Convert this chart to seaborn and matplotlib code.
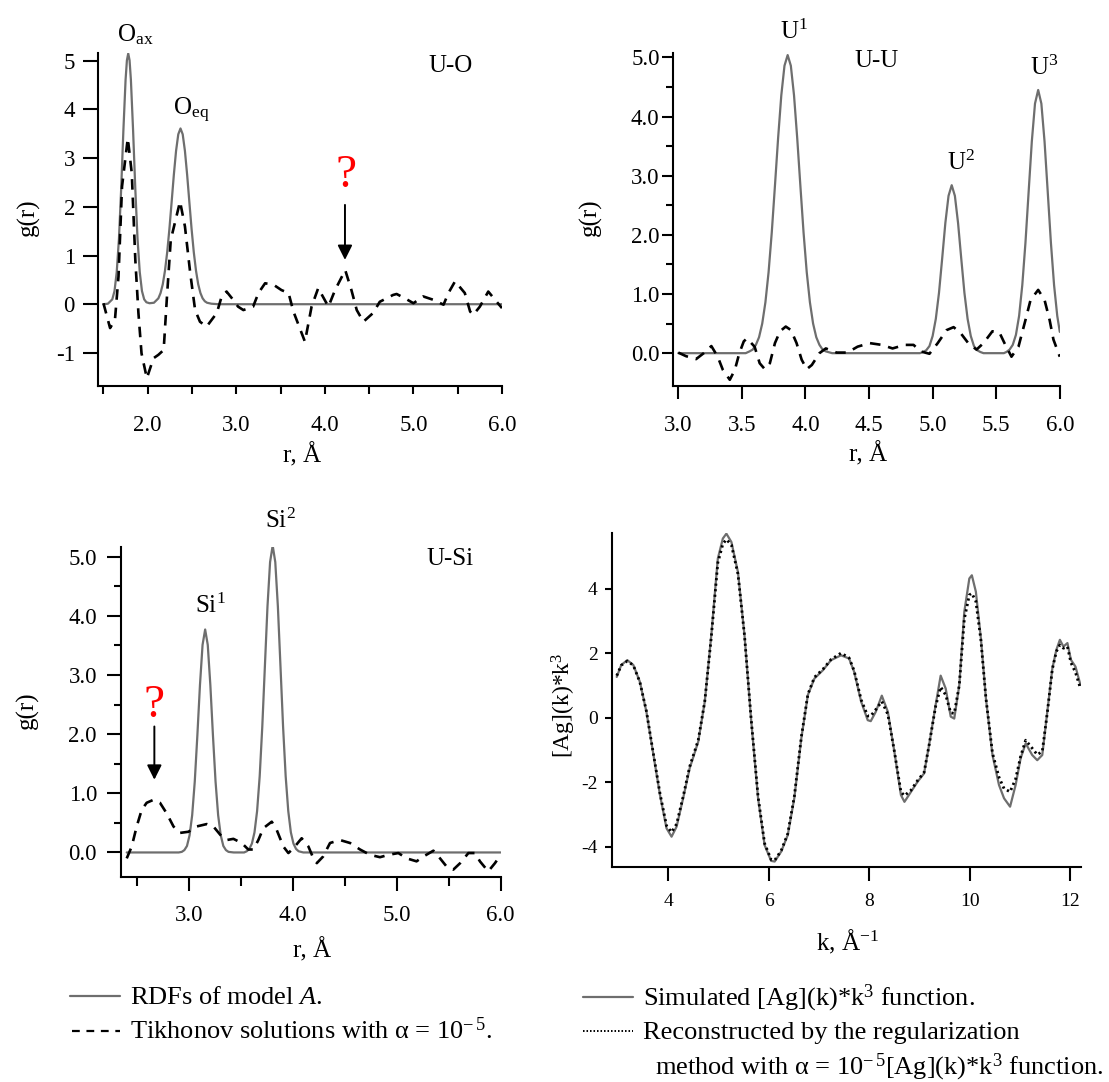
import matplotlib
matplotlib.use("Agg")
import matplotlib.pyplot as plt
import seaborn as sns
from matplotlib.lines import Line2D
from matplotlib.ticker import FixedLocator

# ---------------- U-O ----------------
uo_r_rdf = [1.50, 1.55, 1.60, 1.625, 1.65, 1.675, 1.70, 1.725, 1.75, 1.765, 1.78, 1.795, 1.81, 1.835, 1.86,
            1.885, 1.91, 1.935, 1.96, 1.985, 2.02, 2.07, 2.12, 2.145, 2.17, 2.195, 2.22, 2.245, 2.27, 2.295,
            2.32, 2.345, 2.37, 2.395, 2.42, 2.445, 2.47, 2.495, 2.52, 2.545, 2.57, 2.595, 2.62, 2.645, 2.67,
            2.72, 2.80, 6.00]
uo_g_rdf = [0.0, 0.01, 0.10, 0.27, 0.66, 1.34, 2.36, 3.56, 4.61, 5.01, 5.15, 5.01, 4.61, 3.56, 2.36,
            1.34, 0.66, 0.27, 0.10, 0.04, 0.02, 0.03, 0.12, 0.23, 0.41, 0.69, 1.07, 1.55, 2.10, 2.66,
            3.15, 3.49, 3.61, 3.49, 3.15, 2.66, 2.10, 1.55, 1.07, 0.69, 0.41, 0.23, 0.12, 0.06, 0.03,
            0.01, 0.0, 0.0]
uo_r_tik = [1.50, 1.575, 1.63, 1.67, 1.71, 1.775, 1.82, 1.86, 1.895, 1.93, 1.99, 2.065, 2.12, 2.18, 2.215,
            2.26, 2.365, 2.42, 2.48, 2.535, 2.59, 2.665, 2.78, 2.835, 2.89, 2.965, 3.02, 3.08, 3.19, 3.25,
            3.325, 3.42, 3.51, 3.59, 3.645, 3.775, 3.85, 3.925, 4.04, 4.115, 4.23, 4.30, 4.36, 4.435, 4.545,
            4.62, 4.77, 4.81, 4.905, 5.0, 5.11, 5.225, 5.34, 5.395, 5.47, 5.58, 5.64, 5.675, 5.75, 5.845,
            5.94, 6.0]
uo_g_tik = [0.02, -0.49, -0.32, 0.57, 2.42, 3.41, 2.69, 0.91, -0.18, -1.01, -1.52, -1.11, -1.04, -0.94, 0.09,
            1.32, 2.11, 1.60, 0.64, -0.12, -0.36, -0.46, -0.18, 0.16, 0.26, 0.09, -0.05, -0.12, -0.05, 0.23,
            0.43, 0.40, 0.29, 0.23, -0.15, -0.77, -0.05, 0.33, -0.05, 0.29, 0.70, 0.29, -0.12, -0.36, -0.18,
            0.05, 0.19, 0.21, 0.12, 0.02, 0.16, 0.09, -0.01, 0.23, 0.47, 0.23, -0.15, -0.22, -0.05, 0.26,
            0.05, -0.08]

# ---------------- U-U ----------------
uu_r_rdf = [3.00, 3.53, 3.56, 3.585, 3.61, 3.635, 3.66, 3.685, 3.71, 3.735, 3.76, 3.785, 3.81, 3.835, 3.86,
            3.885, 3.91, 3.935, 3.96, 3.985, 4.01, 4.035, 4.06, 4.085, 4.11, 4.135, 4.16, 4.21, 4.90, 4.925,
            4.95, 4.975, 5.00, 5.025, 5.05, 5.075, 5.10, 5.125, 5.15, 5.175, 5.20, 5.225, 5.25, 5.275, 5.30,
            5.325, 5.35, 5.375, 5.40, 5.56, 5.58, 5.605, 5.63, 5.655, 5.68, 5.705, 5.73, 5.755, 5.78, 5.805,
            5.83, 5.855, 5.88, 5.905, 5.93, 5.955, 5.98, 6.00]
uu_g_rdf = [0.0, 0.0, 0.03, 0.06, 0.14, 0.27, 0.50, 0.86, 1.37, 2.04, 2.83, 3.64, 4.36, 4.86, 5.04,
            4.86, 4.36, 3.64, 2.83, 2.04, 1.37, 0.86, 0.50, 0.27, 0.14, 0.06, 0.03, 0.0, 0.0, 0.02,
            0.05, 0.12, 0.29, 0.58, 1.02, 1.60, 2.20, 2.66, 2.84, 2.66, 2.20, 1.60, 1.02, 0.58, 0.29,
            0.12, 0.05, 0.02, 0.0, 0.0, 0.02, 0.06, 0.14, 0.31, 0.63, 1.15, 1.87, 2.73, 3.58, 4.22,
            4.45, 4.22, 3.58, 2.73, 1.87, 1.15, 0.63, 0.36]
uu_r_tik = [3.00, 3.06, 3.14, 3.20, 3.26, 3.31, 3.35, 3.405, 3.445, 3.48, 3.515, 3.54, 3.60, 3.64, 3.68,
            3.72, 3.76, 3.80, 3.845, 3.886, 3.93, 3.97, 4.01, 4.05, 4.11, 4.16, 4.245, 4.33, 4.41, 4.505,
            4.60, 4.685, 4.78, 4.85, 4.905, 4.975, 5.04, 5.11, 5.165, 5.22, 5.28, 5.345, 5.40, 5.47, 5.525,
            5.565, 5.62, 5.675, 5.73, 5.77, 5.83, 5.88, 5.92, 5.95, 6.00]
uu_g_tik = [0.01, -0.05, -0.10, 0.0, 0.12, -0.06, -0.28, -0.45, -0.28, 0.0, 0.20, 0.25, 0.11, -0.17, -0.27,
            -0.17, 0.17, 0.37, 0.45, 0.39, 0.17, -0.11, -0.27, -0.20, 0.0, 0.08, 0.01, 0.01, 0.11, 0.17,
            0.14, 0.08, 0.14, 0.14, 0.03, -0.01, 0.17, 0.39, 0.44, 0.34, 0.17, 0.06, 0.17, 0.37, 0.35,
            0.17, -0.06, 0.11, 0.56, 0.90, 1.07, 0.90, 0.56, 0.23, -0.06]

# ---------------- U-Si ----------------
us_r_rdf = [2.40, 2.90, 2.93, 2.955, 2.98, 3.005, 3.03, 3.055, 3.08, 3.105, 3.13, 3.155, 3.18, 3.205, 3.23,
            3.255, 3.28, 3.305, 3.33, 3.355, 3.38, 3.43, 3.53, 3.555, 3.58, 3.605, 3.63, 3.655, 3.68, 3.705,
            3.73, 3.755, 3.78, 3.805, 3.83, 3.855, 3.88, 3.905, 3.93, 3.955, 3.98, 4.005, 4.03, 4.055, 4.10,
            6.00]
us_g_rdf = [0.0, 0.0, 0.01, 0.04, 0.11, 0.29, 0.63, 1.20, 1.98, 2.83, 3.51, 3.77, 3.51, 2.83, 1.98,
            1.20, 0.63, 0.29, 0.11, 0.04, 0.01, 0.0, 0.0, 0.02, 0.06, 0.15, 0.34, 0.70, 1.29, 2.13,
            3.15, 4.16, 4.91, 5.19, 4.91, 4.16, 3.15, 2.13, 1.29, 0.70, 0.34, 0.15, 0.06, 0.02, 0.0,
            0.0]
us_r_tik = [2.40, 2.448, 2.496, 2.544, 2.592, 2.657, 2.72, 2.785, 2.85, 2.91, 2.994, 3.074, 3.17, 3.234, 3.30,
            3.362, 3.427, 3.507, 3.57, 3.62, 3.667, 3.715, 3.796, 3.844, 3.908, 3.956, 4.004, 4.084, 4.149, 4.197,
            4.23, 4.29, 4.357, 4.453, 4.55, 4.646, 4.742, 4.838, 4.92, 5.015, 5.095, 5.19, 5.255, 5.352, 5.416,
            5.48, 5.544, 5.61, 5.689, 5.753, 5.80, 5.88, 5.945, 6.0]
us_g_tik = [-0.10, 0.10, 0.44, 0.72, 0.84, 0.89, 0.84, 0.66, 0.44, 0.33, 0.35, 0.44, 0.48, 0.44, 0.30,
            0.21, 0.23, 0.16, 0.05, 0.05, 0.21, 0.41, 0.52, 0.38, 0.10, -0.01, 0.07, 0.24, 0.10, -0.10,
            -0.18, -0.07, 0.16, 0.21, 0.16, 0.05, -0.04, -0.08, -0.04, -0.01, -0.10, -0.15, -0.07, 0.03, -0.10,
            -0.24, -0.29, -0.18, -0.01, -0.01, -0.15, -0.32, -0.18, -0.04]

# ---------------- [Ag](k)*k^3 ----------------
k_vals = [2.98, 3.07, 3.19, 3.31, 3.44, 3.57, 3.70, 3.84, 3.97, 4.07, 4.17, 4.30, 4.43, 4.60, 4.73,
          4.86, 4.99, 5.09, 5.16, 5.26, 5.39, 5.52, 5.65, 5.79, 5.92, 6.05, 6.12, 6.25, 6.38, 6.51,
          6.65, 6.78, 6.91, 7.08, 7.24, 7.44, 7.60, 7.70, 7.84, 7.97, 8.03, 8.13, 8.25, 8.37, 8.50,
          8.63, 8.70, 8.83, 8.96, 9.09, 9.19, 9.32, 9.42, 9.52, 9.62, 9.69, 9.79, 9.89, 9.99, 10.04,
          10.12, 10.22, 10.32, 10.45, 10.58, 10.68, 10.80, 10.91, 11.01, 11.11, 11.24, 11.34, 11.44, 11.54, 11.64,
          11.72, 11.79, 11.86, 11.94, 12.01, 12.10, 12.20]
ag_simulated = [1.26, 1.63, 1.78, 1.63, 1.11, 0.18, -1.06, -2.40, -3.43, -3.69, -3.38, -2.50, -1.57, -0.75, 0.49,
                2.55, 4.93, 5.55, 5.70, 5.44, 4.51, 2.55, -0.03, -2.50, -3.95, -4.44, -4.46, -4.15, -3.64, -2.50,
                -0.64, 0.70, 1.21, 1.47, 1.78, 1.93, 1.83, 1.42, 0.49, -0.08, -0.11, 0.18, 0.68, 0.18, -1.06,
                -2.40, -2.61, -2.30, -1.99, -1.73, -0.85, 0.39, 1.30, 0.90, 0.03, -0.03, 1.00, 3.28, 4.31, 4.41,
                3.90, 2.45, 0.59, -1.16, -2.09, -2.50, -2.76, -2.09, -1.26, -0.80, -1.16, -1.32, -1.16, 0.18, 1.52,
                2.10, 2.41, 2.20, 2.31, 1.79, 1.58, 1.01]
ag_reconstructed = [1.30, 1.62, 1.75, 1.62, 1.10, 0.20, -1.04, -2.35, -3.35, -3.55, -3.30, -2.45, -1.52, -0.70, 0.50,
                    2.50, 4.80, 5.38, 5.52, 5.35, 4.45, 2.55, 0.00, -2.45, -3.90, -4.40, -4.42, -4.12, -3.60, -2.45,
                    -0.60, 0.72, 1.25, 1.50, 1.80, 2.00, 1.85, 1.45, 0.55, 0.05, 0.05, 0.25, 0.50, 0.10, -1.05,
                    -2.30, -2.42, -2.25, -1.95, -1.70, -0.85, 0.35, 0.95, 0.70, 0.15, 0.13, 1.00, 3.05, 3.80, 3.85,
                    3.60, 2.40, 0.60, -1.10, -1.85, -2.20, -2.30, -1.90, -1.20, -0.70, -0.95, -1.15, -1.05, 0.15, 1.50,
                    2.05, 2.25, 2.15, 2.20, 1.70, 1.40, 0.90]

# ---------------- style ----------------
sns.set_theme(style="ticks")
plt.rcParams["font.family"] = ["Liberation Serif", "DejaVu Serif"]
plt.rcParams["mathtext.fontset"] = "custom"
plt.rcParams["mathtext.rm"] = "Liberation Serif"
plt.rcParams["mathtext.it"] = "Liberation Serif:italic"
plt.rcParams["axes.unicode_minus"] = False

W, H = 1109, 1082
fig = plt.figure(figsize=(W / 100, H / 100), dpi=100)
fig.patch.set_facecolor("white")

GRAY = "#6e6e6e"
TIK_DASH = (0, (4, 3))
PT = 0.72  # points per pixel at 100 dpi


def rect(l, t, r, b):
    return [l / W, 1 - b / H, (r - l) / W, (b - t) / H]


def ftext(x, y, s, **kw):
    fig.text(x / W, 1 - y / H, s, color=kw.pop("color", "black"), **kw)


def style_axes(ax, xlen, ylen, xpad, ypad, size, xminlen=None, yminlen=None):
    ax.set_facecolor("white")
    for side in ("top", "right"):
        ax.spines[side].set_visible(False)
    for side in ("left", "bottom"):
        ax.spines[side].set_color("black")
        ax.spines[side].set_linewidth(1.5)
    ax.tick_params(axis="x", which="major", direction="out", length=xlen * PT, width=1.5,
                   pad=xpad, labelsize=size, colors="black")
    ax.tick_params(axis="y", which="major", direction="out", length=ylen * PT, width=1.5,
                   pad=ypad, labelsize=size, colors="black")
    ax.tick_params(axis="x", which="minor", direction="out",
                   length=(xminlen if xminlen else xlen) * PT, width=1.5, colors="black")
    ax.tick_params(axis="y", which="minor", direction="out",
                   length=(yminlen if yminlen else ylen) * PT, width=1.5, colors="black")
    ax.set_xlabel("")
    ax.set_ylabel("")
    ax.grid(False)


def rdf_lines(ax, r_rdf, g_rdf, r_tik, g_tik):
    sns.lineplot(x=r_rdf, y=g_rdf, ax=ax, color=GRAY, linewidth=1.6, sort=False, estimator=None)
    sns.lineplot(x=r_tik, y=g_tik, ax=ax, color="black", linewidth=1.9, linestyle=TIK_DASH,
                 sort=False, estimator=None)


def arrow(ax, x, y0, y1):
    ax.annotate("", xy=(x, y1), xytext=(x, y0),
                arrowprops=dict(arrowstyle="-|>", color="black", lw=1.4, mutation_scale=22,
                                shrinkA=0, shrinkB=0))


# ---------------- panel: U-O ----------------
ax1 = fig.add_axes(rect(98.3, 53, 502, 386))
rdf_lines(ax1, uo_r_rdf, uo_g_rdf, uo_r_tik, uo_g_tik)
ax1.set_xlim(1.442, 6.0)
ax1.set_ylim(-1.68, 5.16)
ax1.set_xticks([2, 3, 4, 5, 6], labels=["2.0", "3.0", "4.0", "5.0", "6.0"])
ax1.xaxis.set_minor_locator(FixedLocator([1.5, 2.5, 3.5, 4.5, 5.5]))
ax1.set_yticks([-1, 0, 1, 2, 3, 4, 5], labels=["-1", "0", "1", "2", "3", "4", "5"])
style_axes(ax1, 8, 15, 15, 6, 16.5)
arrow(ax1, 4.227, 2.04, 0.91)

ftext(28, 217, "g(r)", rotation=90, ha="center", va="center", fontsize=18)
ftext(302, 455, "r, Å", ha="center", va="center", fontsize=18)
ftext(116.7, 41.7, r"O$_{\mathrm{ax}}$", ha="left", va="baseline", fontsize=18)
ftext(173.3, 115, r"O$_{\mathrm{eq}}$", ha="left", va="baseline", fontsize=18)
ftext(428.3, 71.7, "U-O", ha="left", va="baseline", fontsize=18)
ftext(345.7, 186.7, "?", ha="center", va="baseline", fontsize=34, color="#ff0000")

# ---------------- panel: U-U ----------------
ax2 = fig.add_axes(rect(672.7, 53.3, 1059.8, 385.7))
rdf_lines(ax2, uu_r_rdf, uu_g_rdf, uu_r_tik, uu_g_tik)
ax2.set_xlim(2.956, 6.0)
ax2.set_ylim(-0.55, 5.07)
ax2.set_xticks([3.0, 3.5, 4.0, 4.5, 5.0, 5.5, 6.0],
               labels=["3.0", "3.5", "4.0", "4.5", "5.0", "5.5", "6.0"])
ax2.set_yticks([0, 1, 2, 3, 4, 5], labels=["0.0", "1.0", "2.0", "3.0", "4.0", "5.0"])
ax2.yaxis.set_minor_locator(FixedLocator([0.5, 1.5, 2.5, 3.5, 4.5]))
style_axes(ax2, 13, 11, 12, 1.5, 16.5, yminlen=7)

ftext(590, 217, "g(r)", rotation=90, ha="center", va="center", fontsize=18)
ftext(868, 454, "r, Å", ha="center", va="center", fontsize=18)
ftext(779.8, 39.3, r"U$^{\mathrm{1}}$", ha="left", va="baseline", fontsize=18)
ftext(854, 66.7, "U-U", ha="left", va="baseline", fontsize=18)
ftext(946.8, 170, r"U$^{\mathrm{2}}$", ha="left", va="baseline", fontsize=18)
ftext(1030, 75, r"U$^{\mathrm{3}}$", ha="left", va="baseline", fontsize=18)

# ---------------- panel: U-Si ----------------
ax3 = fig.add_axes(rect(120.7, 546.7, 500.7, 877.3))
rdf_lines(ax3, us_r_rdf, us_g_rdf, us_r_tik, us_g_tik)
ax3.set_xlim(2.342, 6.0)
ax3.set_ylim(-0.42, 5.17)
ax3.set_xticks([3, 4, 5, 6], labels=["3.0", "4.0", "5.0", "6.0"])
ax3.xaxis.set_minor_locator(FixedLocator([2.5, 3.5, 4.5, 5.5]))
ax3.set_yticks([0, 1, 2, 3, 4, 5], labels=["0.0", "1.0", "2.0", "3.0", "4.0", "5.0"])
ax3.yaxis.set_minor_locator(FixedLocator([0.5, 1.5, 2.5, 3.5, 4.5]))
style_axes(ax3, 14, 14, 10, 7, 16.5, xminlen=9, yminlen=7)
arrow(ax3, 2.666, 2.13, 1.23)

ftext(27, 710, "g(r)", rotation=90, ha="center", va="center", fontsize=18)
ftext(312, 950, "r, Å", ha="center", va="center", fontsize=18)
ftext(195, 613.3, r"Si$^{\mathrm{1}}$", ha="left", va="baseline", fontsize=18)
ftext(265, 528.3, r"Si$^{\mathrm{2}}$", ha="left", va="baseline", fontsize=18)
ftext(426.7, 565, "U-Si", ha="left", va="baseline", fontsize=18)
ftext(154.3, 717.3, "?", ha="center", va="baseline", fontsize=34, color="#ff0000")

# ---------------- panel: [Ag](k)*k^3 ----------------
ax4 = fig.add_axes(rect(611.7, 533, 1080.5, 866.7))
sns.lineplot(x=k_vals, y=ag_simulated, ax=ax4, color=GRAY, linewidth=1.6, sort=False, estimator=None)
sns.lineplot(x=k_vals, y=ag_reconstructed, ax=ax4, color="black", linewidth=2.0,
             linestyle=(0, (0.8, 1.2)), sort=False, estimator=None)
ax4.set_xlim(2.88, 12.2)
ax4.set_ylim(-4.62, 5.72)
ax4.set_xticks([4, 6, 8, 10, 12], labels=["4", "6", "8", "10", "12"])
ax4.set_yticks([-4, -2, 0, 2, 4], labels=["-4", "-2", "0", "2", "4"])
style_axes(ax4, 14, 7, 9, 5, 14)

ftext(564, 705, r"[Ag](k)*k$^{\mathrm{3}}$", rotation=90, ha="center", va="center", fontsize=17)
ftext(847, 942, r"k, Å$^{\mathrm{-1}}$", ha="center", va="center", fontsize=18)

# ---------------- legends ----------------
def legend_sample(x0, x1, y, **kw):
    fig.add_artist(Line2D([x0 / W, x1 / W], [1 - y / H, 1 - y / H], **kw))


legend_sample(70, 120, 996, color=GRAY, linewidth=1.6)
legend_sample(72, 120, 1031, color="black", linewidth=1.6, linestyle=(0, (3.5, 3)))
ftext(130, 1004, r"RDFs of model $\mathit{A}$.", ha="left", va="baseline", fontsize=19)
ftext(130, 1039, r"Tikhonov solutions with α = 10$^{\mathrm{-\,5}}$.", ha="left", va="baseline", fontsize=19)

legend_sample(583, 633, 997, color=GRAY, linewidth=1.6)
legend_sample(583, 633, 1031, color="black", linewidth=1.4, linestyle=(0, (0.8, 1.0)))
ftext(643, 1005, r"Simulated [Ag](k)*k$^{\mathrm{3}}$ function.", ha="left", va="baseline", fontsize=19)
ftext(643, 1039, "Reconstructed by the regularization", ha="left", va="baseline", fontsize=19)
ftext(655, 1074, r"method with α = 10$^{\mathrm{-\,5}}$[Ag](k)*k$^{\mathrm{3}}$ function.",
      ha="left", va="baseline", fontsize=19)

fig.savefig("out.png", dpi=100, facecolor="white")
